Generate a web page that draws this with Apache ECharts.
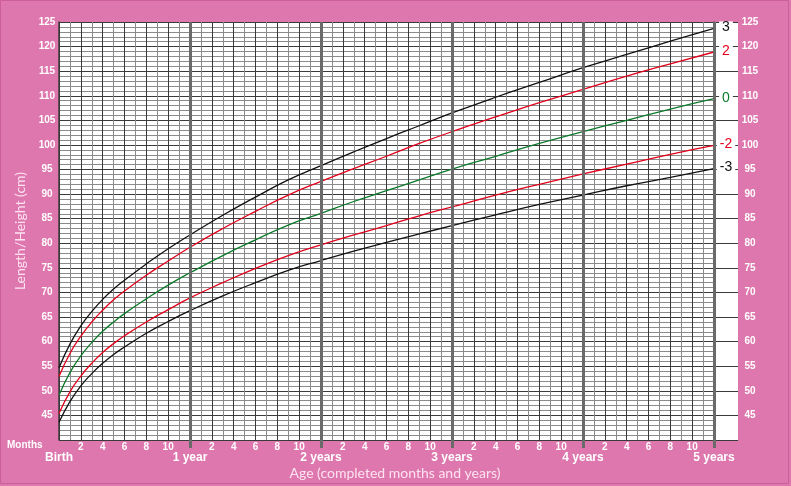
<!DOCTYPE html>
<html><head><meta charset="utf-8">
<script src="https://cdn.jsdelivr.net/npm/echarts@6/dist/echarts.min.js"></script>
<style>html,body{margin:0;padding:0;background:#de77ae}#c{width:791px;height:486px}</style>
</head><body><div id="c"></div>
<script>
const ageMonths = [0,1,2,3,4,5,6,8,10,12,15,18,21,24,27,30,33,36,40,44,48,52,56,60];
const sd3    = [54.7,59.5,63.2,66.1,68.6,70.7,72.5,75.8,78.9,81.7,85.7,89.4,92.9,95.8,98.6,101.3,103.9,106.5,109.7,112.7,115.7,118.4,121.1,123.7];
const sd2    = [52.9,57.6,61.1,64.0,66.4,68.5,70.3,73.5,76.4,79.2,83.0,86.5,89.8,92.6,95.2,97.7,100.3,102.7,105.7,108.6,111.3,114.0,116.5,118.9];
const sd0    = [49.1,53.7,57.1,59.8,62.1,64.0,65.7,68.7,71.5,74.0,77.5,80.7,83.7,86.1,88.5,90.7,92.9,95.1,97.7,100.3,102.7,105.0,107.3,109.4];
const sdNeg2 = [45.4,49.8,53.0,55.6,57.8,59.6,61.2,64.0,66.5,68.9,72.0,74.9,77.5,79.7,81.7,83.6,85.6,87.4,89.8,92.0,94.1,96.1,98.1,99.9];
const sdNeg3 = [43.6,47.8,51.0,53.5,55.6,57.4,58.9,61.7,64.1,66.3,69.3,72.0,74.5,76.5,78.4,80.2,81.9,83.6,85.8,87.9,89.8,91.7,93.4,95.2];
const zNames = ['3','2','0','-2','-3'];
const yearLabels = ['Birth','1 year','2 years','3 years','4 years','5 years'];
const yearMonths = [12,24,36,48,60];

const NARROW = '"Liberation Sans Narrow","Liberation Sans",Arial,sans-serif';
const chart = echarts.init(document.getElementById('c'), null, {renderer:'canvas'});
const lines = [
  {name:zNames[0], data:sd3, color:'#111111'},
  {name:zNames[1], data:sd2, color:'#e3001b'},
  {name:zNames[2], data:sd0, color:'#0b7a2a'},
  {name:zNames[3], data:sdNeg2, color:'#e3001b'},
  {name:zNames[4], data:sdNeg3, color:'#111111'}
];
const series = lines.map(l => ({
  type:'line', name:l.name, xAxisIndex:0, yAxisIndex:0, smooth:0.5, showSymbol:false, z:2,
  data: ageMonths.map((m,i)=>[m, l.data[i]]),
  lineStyle:{color:l.color, width:1.3},
  endLabel:{show:true, formatter:l.name, color:l.color, fontFamily:NARROW, fontSize:14,
    distance:12, align:'center', verticalAlign:'middle', backgroundColor:'#fff', padding:[0,3], lineHeight:12, offset:[0,-1]}
}));
series.push({
  type:'line', xAxisIndex:0, yAxisIndex:0, data:[], z:4, silent:true,
  markLine:{silent:true, symbol:'none', animation:false, z:4,
    label:{show:false}, lineStyle:{color:'#6a6a6a', width:3, type:'solid'},
    data: yearMonths.map(v=>({xAxis:v}))}
});
const labelStyle = {color:'#fff', fontWeight:'bold', fontFamily:NARROW, fontSize:10};
chart.setOption({
  animation:false,
  backgroundColor:'#de77ae',
  grid:[
    {left:59, top:22, width:655, height:418, show:true, backgroundColor:'#fff', borderWidth:0},
    {left:714, top:22, width:24, height:418, show:true, backgroundColor:'#fff', borderWidth:0}
  ],
  xAxis:[
    {gridIndex:0, type:'value', min:0, max:60, interval:2, position:'bottom',
      axisLine:{show:false}, axisTick:{show:false},
      axisLabel:Object.assign({}, labelStyle, {margin:2, formatter:v => (v%12===0)?'':String(v%12)}),
      splitLine:{show:true, lineStyle:{color:'#3a3a3a', width:1}},
      minorTick:{show:false, splitNumber:2},
      minorSplitLine:{show:true, lineStyle:{color:'#8a8a8a', width:1}}},
    {gridIndex:0, type:'value', min:0, max:60, interval:12, position:'bottom',
      axisLine:{show:false},
      axisTick:{show:true, length:8, customValues:yearMonths, lineStyle:{color:'#6a6a6a', width:3}},
      axisLabel:Object.assign({}, labelStyle, {fontSize:12, margin:12, showMinLabel:true, showMaxLabel:true,
        formatter:v => yearLabels[Math.round(v/12)]}),
      splitLine:{show:false}},
    {gridIndex:1, type:'value', min:0, max:1, show:false}
  ],
  yAxis:[
    {gridIndex:0, type:'value', min:40, max:125, interval:5, position:'left',
      axisLine:{show:true, lineStyle:{color:'#3a3a3a', width:1.5}}, axisTick:{show:false},
      axisLabel:Object.assign({}, labelStyle, {margin:12, align:'center', formatter:v => v<45?'':String(v)}),
      name:'Length/Height (cm)', nameLocation:'middle', nameGap:31,
      nameTextStyle:{color:'#fde3f0', fontFamily:'Lato, sans-serif', fontSize:14},
      splitLine:{show:true, lineStyle:{color:'#3a3a3a', width:1}},
      minorTick:{show:false, splitNumber:5},
      minorSplitLine:{show:true, lineStyle:{color:'#8a8a8a', width:1}}},
    {gridIndex:1, type:'value', min:40, max:125, interval:5, position:'right',
      axisLine:{show:true, lineStyle:{color:'#3a3a3a', width:1.5}}, axisTick:{show:false},
      axisLabel:Object.assign({}, labelStyle, {margin:12, align:'center', formatter:v => v<45?'':String(v)}),
      splitLine:{show:true, lineStyle:{color:'#3a3a3a', width:1}}}
  ],
  graphic:[
    {type:'text', x:7, y:445, style:{text:'Months', fill:'#fff', font:'bold 10px '+NARROW, verticalAlign:'middle'}},
    {type:'text', x:395, y:473, style:{text:'Age (completed months and years)', fill:'#fde3f0', font:'14px Lato, sans-serif', align:'center', verticalAlign:'middle'}},
    {type:'rect', shape:{x:0.5, y:0.5, width:788, height:483}, style:{fill:null, stroke:'#cc5f9b', lineWidth:1}, silent:true}
  ],
  series: series
});
</script></body></html>
